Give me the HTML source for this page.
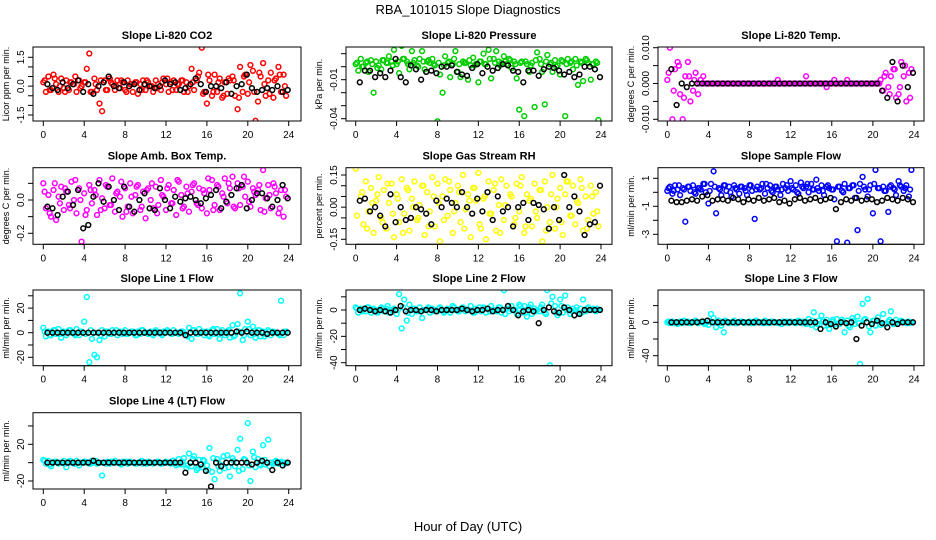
<!DOCTYPE html>
<html><head><meta charset="utf-8"><title>RBA_101015 Slope Diagnostics</title>
<style>
html,body{margin:0;padding:0;background:#fff;}
svg{display:block;font-family:"Liberation Sans",Arial,sans-serif;}
</style></head>
<body>
<svg id="chart" width="936" height="540" viewBox="0 0 936 540" xmlns="http://www.w3.org/2000/svg">
<rect x="0" y="0" width="936" height="540" fill="#fff"/>
<text x="468" y="14" text-anchor="middle" font-size="13">RBA_101015  Slope Diagnostics</text>
<text x="468" y="531" text-anchor="middle" font-size="13">Hour of Day (UTC)</text>
</svg>
<script>
const xTicks = [0,4,8,12,16,20,24];

const co2C = [0.2,-0.3,0.5,-0.2,0.6,0.1,-0.3,0.4,-0.1,0.3,-0.2,0.2,0.1,-0.3,0.3,0.0,
0.2,0.9,1.7,-0.3,0.4,-0.2,-0.9,-1.3,0.3,-0.2,0.4,0.1,-0.2,0.3,-0.1,0.2,
-0.2,0.3,0.1,-0.3,0.2,-0.4,0.1,0.3,-0.2,0.2,0.0,-0.3,0.3,0.1,-0.2,0.4,
0.1,-0.3,0.2,0.3,-0.2,0.1,0.3,-0.3,0.2,0.0,0.9,-0.2,0.3,0.7,2.0,-0.3,
-0.9,0.3,-0.5,0.6,-0.3,0.4,-0.6,0.2,-0.4,0.3,0.5,-0.5,-1.2,1.0,-0.3,0.6,
-0.4,1.1,0.8,-1.8,-0.8,0.5,1.2,-0.5,0.3,0.7,-0.6,0.4,1.0,-0.3,0.6,-0.5];
const co2B = [0.3,-0.2,0.4,0.0,-0.3,0.2,0.5,-0.1,0.2,-0.3,0.1,0.3,-0.2,0.2,0.0,0.3,
-0.3,0.1,0.2,-0.2,0.3,0.0,-0.1,0.2,0.4,-0.2,0.1,0.3,-0.3,0.2,0.5,-0.4,
0.6,-0.3,0.2,-0.5,0.4,0.3,-0.6,0.5,0.2,-0.3,0.7,0.1,-0.4,0.3,0.6,0.0];
const co2K = [0.1,-0.1,-0.2,0.2,-0.1,0.1,0.3,-0.3,0.1,-0.4,0.0,0.2,0.5,0.0,-0.1,0.2,
0.0,0.1,-0.2,0.1,0.0,-0.1,0.0,0.3,0.1,0.2,-0.2,-0.1,0.1,0.4,0.1,-0.3,
0.0,0.0,-0.1,0.2,-0.4,0.0,0.1,0.6,-0.1,-0.3,-0.2,-0.1,-0.2,0.0,-0.3,-0.2];

const presC = [0.002,-0.003,0.006,0.000,0.003,-0.004,0.005,-0.020,0.004,0.001,-0.002,0.005,0.003,0.008,0.004,0.013,
0.002,-0.005,0.016,0.006,0.004,-0.002,0.012,0.005,0.001,0.006,0.012,-0.002,0.004,0.003,0.006,0.001,
-0.042,-0.006,-0.020,0.008,0.003,-0.008,0.002,0.012,-0.004,-0.008,0.004,0.003,-0.010,0.001,0.007,0.002,
-0.012,0.004,0.010,0.002,0.013,-0.009,0.006,0.012,0.004,0.003,0.008,0.002,0.006,-0.001,0.004,-0.009,
-0.033,0.004,-0.038,0.002,-0.004,0.003,-0.031,0.011,0.006,-0.004,-0.029,0.009,0.002,-0.004,0.005,0.001,
-0.006,0.004,-0.038,0.006,0.003,-0.002,0.006,-0.014,0.004,-0.011,0.006,0.003,-0.010,0.002,0.004,-0.041];
const presB = [0.003,0.000,0.004,0.002,-0.001,0.005,0.003,0.001,0.004,0.006,0.002,0.003,0.000,0.004,0.005,0.002,
0.003,0.001,0.004,0.006,0.002,0.003,0.005,0.001,0.004,0.002,0.006,0.003,0.001,0.004,0.005,0.002,
0.003,0.004,0.001,0.005,0.002,0.004,0.003,0.000,0.005,0.002,0.004,0.001,0.003,0.005,0.002,0.003];
const presK = [-0.012,-0.003,-0.003,-0.008,-0.005,-0.008,-0.003,0.006,-0.008,-0.012,0.001,-0.002,-0.010,-0.004,-0.003,-0.005,
0.000,0.000,0.001,-0.004,-0.006,-0.007,-0.001,0.002,-0.005,0.000,-0.003,-0.001,0.002,0.001,-0.003,-0.004,
-0.012,-0.003,-0.003,-0.007,-0.002,0.000,-0.001,-0.003,-0.006,-0.004,-0.008,-0.006,0.000,0.000,-0.002,-0.008];

const tempC = [0.001,0.010,-0.010,0.004,0.006,-0.003,-0.010,0.002,0.006,-0.005,-0.002,0.003,-0.003,0.001,0.002,0.000,
0,0,0,0,0,0,0,0,0,0,0,0,0,0,0,0,
0,0,0,0,0,0,0,0,0,0,0,0.001,0,0,0,0,
0,0,0,0,0,0,0.002,0,0,0,0,0,0,0,-0.001,0,
0,0.001,0,0,0,0,0.001,0,0,0,0,0,0,0,0,0,
0,0,0,0.001,-0.002,0.003,-0.001,0.002,0.004,-0.004,-0.003,0.006,0.002,-0.005,0.003,0.004];
const tempB = [0.003,-0.002,0.005,-0.004,0.002,0.001,0,0,0,0,0,0,0,0,0,0,
0,0,0,0,0,0,0,0,0,0,0,0,0,0,0,0,
0,0,0,0,0,0,0,0,0,0,0.002,-0.003,0.004,-0.001,0.005,-0.004];
const tempK = [0.004,-0.006,0.000,-0.001,0,0,0,0,0,0,0,0,0,0,0,0,
0,0,0,0,0,0,0,0,0,0,0,0,0,0,0,0,
0,0,0,0,0,0,0,0,0,-0.002,-0.004,0.006,-0.005,0.005,-0.001,0.003];

const ambC = [0.1,-0.05,0.03,-0.1,0.06,-0.12,0.02,0.08,-0.06,0.05,-0.03,0.11,0.0,-0.08,0.07,-0.25,
0.04,-0.06,0.09,-0.02,0.06,-0.09,0.12,0.01,-0.05,0.08,-0.03,0.13,-0.07,0.05,0.02,-0.1,
0.07,-0.04,0.1,-0.08,0.03,0.09,-0.06,0.05,-0.11,0.07,0.0,-0.05,0.08,-0.03,0.12,0.02,
-0.06,0.09,-0.02,0.06,-0.09,0.11,0.03,-0.04,0.08,-0.07,0.05,0.1,-0.02,0.07,-0.05,0.04,
-0.08,0.06,0.12,-0.03,0.09,-0.06,0.04,0.13,-0.02,0.07,0.14,-0.05,0.1,-0.03,0.08,0.02,
0.11,-0.04,0.07,0.03,0.06,-0.06,0.18,0.01,0.09,-0.05,0.1,0.04,-0.08,0.06,-0.1,0.02];
const ambB = [0.05,-0.08,0.1,-0.02,0.07,-0.05,0.12,0.0,-0.09,0.06,0.03,-0.06,0.09,-0.03,0.04,0.11,
-0.07,0.02,0.08,-0.04,0.06,0.1,-0.08,0.03,0.07,-0.02,0.12,-0.05,0.04,0.09,-0.03,0.06,
0.13,-0.06,0.08,0.02,0.1,-0.04,0.07,0.14,-0.01,0.05,0.09,-0.07,0.03,0.08,-0.05,0.06];
const ambK = [-0.04,-0.05,-0.09,0.02,0.05,-0.03,0.06,-0.17,-0.15,0.02,0.1,-0.01,0.08,0.0,-0.06,0.08,
-0.04,-0.07,0.0,0.04,-0.05,-0.06,0.07,0.0,-0.05,0.02,-0.01,0.01,0.02,0.0,-0.02,0.01,
0.03,0.06,-0.05,-0.01,0.03,0.07,0.09,-0.05,0.0,0.04,0.04,0.01,-0.04,0.0,0.09,0.01];

const rhC = [0.18,-0.2,0.05,-0.08,0.12,-0.02,0.09,-0.12,0.03,0.14,-0.05,0.08,-0.1,0.02,0.11,-0.14,
0.06,-0.07,0.13,-0.03,0.09,-0.11,0.04,0.12,-0.06,0.01,0.1,-0.13,0.07,-0.02,0.14,-0.09,
0.11,-0.16,0.05,0.13,-0.04,0.08,-0.12,0.02,0.1,-0.07,0.15,-0.01,0.06,-0.14,0.09,0.03,
0.16,-0.1,0.04,-0.15,0.12,-0.03,0.08,-0.11,0.01,0.13,-0.06,0.1,-0.19,0.05,-0.08,0.11,
-0.02,0.14,-0.12,0.06,0.03,-0.09,0.11,-0.05,0.08,-0.16,0.12,0.0,-0.07,0.15,-0.1,0.04,
0.09,-0.13,0.06,0.12,-0.04,0.1,-0.08,0.02,0.13,-0.11,0.05,-0.06,0.1,-0.03,0.07,-0.09];
const rhB = [-0.04,0.07,-0.1,0.02,0.06,-0.07,0.11,-0.03,0.04,-0.12,0.08,0.0,-0.05,0.1,-0.09,0.05,
0.02,-0.06,0.12,-0.02,0.07,-0.1,0.03,0.09,-0.08,0.05,-0.03,0.11,-0.12,0.01,0.06,-0.05,
0.1,-0.09,0.04,-0.02,0.08,-0.11,0.06,0.0,-0.07,0.12,-0.04,0.03,0.09,-0.1,0.05,-0.02];
const rhK = [0.03,0.04,-0.02,0.0,-0.04,-0.09,0.06,-0.07,0.0,-0.06,-0.05,0.0,-0.01,-0.03,-0.08,0.03,
0.0,0.04,0.02,0.0,0.07,0.0,-0.03,0.04,-0.02,0.07,-0.06,0.05,-0.02,0.0,-0.09,0.0,
0.02,-0.06,0.02,0.01,-0.01,-0.1,0.0,-0.06,0.15,0.0,0.05,-0.02,-0.13,-0.08,-0.07,0.1];

const sfC = [0.1,0.4,-0.1,0.5,0.2,-0.2,0.3,-2.1,0.4,0.1,0.5,-0.1,0.3,0.2,0.6,0.0,
-0.8,0.6,1.5,-1.5,0.3,-0.2,0.5,0.1,0.4,-0.3,0.5,0.2,-0.1,0.4,0.3,-0.2,
0.5,0.1,-1.9,0.4,0.2,0.6,-0.1,0.3,0.5,0.0,0.4,0.2,-0.2,0.6,0.3,0.1,
0.8,0.2,0.5,-0.1,0.7,0.3,0.4,0.0,0.6,0.2,0.9,0.1,0.5,-0.2,0.4,0.3,
0.2,-0.5,-3.5,0.4,0.1,0.6,-3.6,0.3,0.5,-0.4,-2.7,0.6,1.1,0.2,-0.3,0.5,
-1.5,1.6,0.3,-3.5,0.4,0.1,-1.4,0.5,0.3,-0.2,0.8,0.4,0.1,0.5,-0.3,1.6];
const sfB = [0.3,0.1,0.5,0.2,0.4,0.0,0.3,0.6,0.1,0.4,0.2,0.5,0.0,0.3,0.4,0.1,
0.5,0.2,0.3,0.6,0.1,0.4,0.2,0.5,0.3,0.0,0.4,0.6,0.2,0.3,0.1,0.5,
0.2,0.4,0.0,0.3,0.5,0.1,0.4,0.2,0.6,0.3,0.1,0.4,0.2,0.5,0.3,0.2];
const sfK = [-0.6,-0.7,-0.7,-0.6,-0.5,-0.6,-0.3,-0.2,-0.6,-0.5,-0.5,-0.6,-0.4,-0.5,-0.7,-0.5,
-0.6,-0.4,-0.6,-0.5,-0.4,-0.7,-0.6,-0.8,-0.5,-0.4,-0.6,-0.5,-0.4,-0.6,-0.5,-0.4,
-1.2,-0.7,-0.5,-0.6,-0.4,-0.6,-0.5,-0.5,-0.7,-0.6,-0.4,-0.5,-0.6,-0.4,-0.5,-0.7];

const l1C = [4,-3,1,-2,2,-1,3,-4,1,-2,2,0,-1,3,-2,1,
9,29,-24,-5,-18,-20,-6,2,-3,1,-1,2,0,-2,1,-1,
2,-1,0,1,-2,1,-1,2,0,-1,1,-2,2,0,-1,1,
0,1,-1,2,0,-1,1,0,-2,4,-5,2,-1,3,0,-2,
1,-3,2,-1,3,-5,2,-2,1,-4,6,-2,7,32,-6,3,
9,-2,5,-4,2,-3,1,-1,2,-2,1,0,-1,26,-2,1];
const l1B = [1,-2,2,-1,0,2,-2,1,-1,2,0,-2,1,-1,2,0,
-1,1,-2,2,0,-1,1,-2,2,-1,0,1,-3,2,-1,1,
-2,3,-1,0,2,-3,1,-2,3,-1,2,-3,1,0,-2,1];
const l1K = [0,0,0,0,0,0,0,0,0,0,0,0,0,0,0,0,
0,0,0,0,0,0,0,0,0,0,0,-2,0,0,0,0,
0,0,0,0,0,1,0,1,0,0,0,-1,0,0,0,0];

const l2C = [2,-2,1,0,-1,2,-2,1,0,-1,2,-1,1,-2,0,1,
-3,12,-14,8,-8,4,-3,1,-1,2,-6,0,1,-2,1,0,
-1,2,0,-1,1,-2,3,0,-1,1,2,-1,0,3,-2,1,
0,-1,2,-2,1,3,0,-1,2,-2,15,1,-1,3,0,-3,
4,-2,3,-5,2,-3,1,0,-1,4,-2,15,-42,10,3,-4,
8,-2,11,2,-3,1,0,-2,1,8,-1,2,0,1,-1,0];
const l2B = [1,-1,2,0,-2,1,3,-1,0,2,-2,1,-1,0,2,-1,
1,-2,0,2,-1,1,0,-2,2,1,-1,0,2,-3,1,0,
3,-2,4,-1,2,-3,5,-2,3,0,-1,2,-2,1,0,1];
const l2K = [0,1,0,-1,0,-1,-2,0,3,-1,0,0,-1,0,0,-1,
0,0,0,0,1,0,-1,0,0,1,-1,0,0,3,0,-4,
-1,0,-1,-10,0,2,-1,-2,2,0,-4,-3,0,0,0,0];

const l3C = [0,-1,1,0,-2,1,-1,0,1,-1,0,2,-1,0,1,-1,
-3,10,5,-6,2,-4,-12,1,-1,0,2,-1,0,1,-1,0,
1,0,-1,1,0,-1,2,0,-1,1,0,-1,0,1,0,-1,
1,0,-1,2,0,1,-2,4,-3,12,-6,2,8,-4,3,-8,
1,-3,4,-2,3,-12,2,-6,5,-2,7,-50,22,4,28,-12,
2,-4,6,-3,10,-2,1,13,-2,3,-1,2,0,-1,1,0];
const l3B = [1,-1,0,2,-1,1,0,-2,1,0,-1,2,0,-1,1,0,
-1,2,0,-1,1,0,-2,1,0,1,-1,0,2,-2,1,-3,
3,-2,1,-4,2,-1,3,-5,2,0,-2,3,-1,1,0,-1];
const l3K = [0,0,0,0,0,0,1,2,0,0,0,0,0,0,0,0,
0,0,0,0,0,0,0,0,0,0,0,0,0,-8,0,-2,
-5,0,-1,0,-20,-4,0,-2,2,-1,-6,0,-2,0,0,0];

const l4C = [3,-1,2,-4,0,1,-1,0,2,-5,1,0,-1,2,-3,0,
1,0,-1,2,0,-1,0,-14,0,1,-1,0,2,0,-1,1,
0,-1,1,0,-1,0,1,-1,0,1,0,-1,0,1,-1,0,
1,0,-1,2,-3,4,-2,5,-6,10,-4,7,-8,3,-5,2,
-3,16,-10,-18,4,-9,2,-6,8,-15,5,-4,14,26,-7,3,
43,-20,12,-5,4,-3,19,-2,25,0,-1,2,-1,1,0,0];
const l4B = [2,-2,1,0,-1,2,-1,0,1,-1,2,0,-1,1,0,-2,
1,0,-1,2,-1,0,1,-1,0,2,-1,1,-3,4,-6,3,
-8,5,-4,7,-5,2,-9,4,-3,6,-2,3,-4,1,0,-1];
const l4K = [0,0,0,0,0,0,0,0,0,2,0,0,0,0,0,0,
0,0,0,0,0,0,0,0,0,0,0,-11,0,0,-2,-9,
-26,0,-4,0,0,0,0,0,-2,0,2,0,-8,0,-3,0];

const panelTitles = ["Slope Li-820 CO2","Slope Li-820 Pressure","Slope Li-820 Temp.","Slope Amb. Box Temp.","Slope Gas Stream RH","Slope Sample Flow","Slope Line 1 Flow","Slope Line 2 Flow","Slope Line 3 Flow","Slope Line 4 (LT) Flow"];
const yTitles = ["Licor ppm per min.","kPa per min.","degrees C per min.","degrees C per min.","percent per min.","ml/min per min.","ml/min per min.","ml/min per min.","ml/min per min.","ml/min per min."];
const colSeries = [co2C,presC,tempC,ambC,rhC,sfC,l1C,l2C,l3C,l4C];
const colSeriesB = [co2B,presB,tempB,ambB,rhB,sfB,l1B,l2B,l3B,l4B];
const blkSeries = [co2K,presK,tempK,ambK,rhK,sfK,l1K,l2K,l3K,l4K];
const yTickVals = [[-1.5,-1,-0.5,0,0.5,1,1.5],[0.01,0,-0.01,-0.02,-0.03,-0.04],[-0.01,-0.005,0,0.005,0.01],[-0.2,-0.1,0,0.1],[-0.15,-0.1,-0.05,0,0.05,0.1,0.15],[-3,-2,-1,0,1],[-20,-10,0,10,20,30],[-40,-30,-20,-10,0,10],[-40,-20,0,20],[-20,0,20,40]];
const yTickLabels = [{"1.5":"1.5","0":"0.0","-1.5":"-1.5"},{"-0.01":"-0.01","-0.04":"-0.04"},{"0.01":"0.010","0":"0.000","-0.01":"-0.010"},{"0":"0.0","-0.2":"-0.2"},{"0.15":"0.15","0":"0.00","-0.15":"-0.15"},{"1":"1","-1":"-1","-3":"-3"},{"20":"20","0":"0","-20":"-20"},{"0":"0","-20":"-20","-40":"-40"},{"0":"0","-40":"-40"},{"20":"20","-20":"-20"}];

// layout (pixel geometry, not data)
const colBox = [[33,301,43.3,288.7],[346,612,355.7,601],[658,924,667.3,914]];
const rowBox = [[47,121],[167.7,244.3],[290,365.7],[412.7,489]];
const yRef = [[1.5,57.3,-1.5,115],[0,66.7,-0.04,118.7],[0.01,47.7,-0.01,119.3],[0,200,-0.2,233.3],[0.15,175,-0.15,239.3],[1,178.3,-3,234.3],[20,308.1,-20,357.3],[0,310,-40,362.7],[0,322.3,-40,355.7],[20,444.3,-20,481]];
const colors = ["#ff0000","#00cd00","#ff00ff","#ff00ff","#ffff00","#0000ff","#00ffff","#00ffff","#00ffff","#00ffff"];

const NS = "http://www.w3.org/2000/svg";
const svg = document.getElementById('chart');
function mk(tag, attrs, parent){
  const e = document.createElementNS(NS, tag);
  for (const k in attrs) e.setAttribute(k, attrs[k]);
  (parent||svg).appendChild(e); return e;
}
const defs = mk('defs',{});

for (let p = 0; p < 10; p++) {
  const cb = colBox[p % 3], rb = rowBox[Math.floor(p / 3)];
  const [bx0, bx1, hx0, hx24] = cb, [by0, by1] = rb;
  const [va, ya, vb, yb] = yRef[p];
  const xS = h => hx0 + (hx24 - hx0) * h / 24;
  const yS = v => ya + (yb - ya) * (v - va) / (vb - va);

  const g = mk('g', {});
  
  

  const cp = mk('clipPath', {id: 'clip' + p}, defs);
  mk('rect', {x: bx0, y: by0, width: bx1 - bx0, height: by1 - by0}, cp);

  const t = mk('text', {x: (bx0 + bx1) / 2, y: by0 - 8, 'text-anchor': 'middle', 'font-size': 11, 'font-weight': 'bold'}, g);
  
  
  t.textContent = panelTitles[p];

  const yt = mk('text', {transform: 'translate(' + (bx0 - 24) + ',' + ((by0 + by1) / 2) + ') rotate(-90)', 'text-anchor': 'middle', 'font-size': 9}, g);
  
  
  yt.textContent = yTitles[p];

  // points
  const pg = mk('g', {'clip-path': 'url(#clip' + p + ')', fill: 'none', 'stroke-width': 1.5}, g);
  const cs = colSeries[p];
  for (let i = 0; i < cs.length; i++) {
    const c = mk('circle', {cx: xS(i * 0.25).toFixed(1), cy: yS(cs[i]).toFixed(1), r: 2.4, stroke: colors[p]}, pg);
    
    
  }
  const cs2 = colSeriesB[p];
  for (let i = 0; i < cs2.length; i++) {
    const c = mk('circle', {cx: xS(i * 0.5 + 0.125).toFixed(1), cy: yS(cs2[i]).toFixed(1), r: 2.4, stroke: colors[p]}, pg);
    
    
  }
  const ks = blkSeries[p];
  for (let i = 0; i < ks.length; i++) {
    const c = mk('circle', {cx: xS((i + 1) * 0.5 - 0.1).toFixed(1), cy: yS(ks[i]).toFixed(1), r: 2.4, stroke: '#000'}, pg);
    
    
  }

  const box = mk('rect', {x: bx0, y: by0, width: bx1 - bx0, height: by1 - by0, fill: 'none', stroke: '#000', 'stroke-width': 1}, g);
  
  

  // x axis
  const xa = mk('g', {}, g);
  
  
  mk('line', {x1: xS(0), x2: xS(24), y1: by1, y2: by1, stroke: '#000'}, xa);
  xTicks.forEach(h => {
    mk('line', {x1: xS(h), x2: xS(h), y1: by1, y2: by1 + 5, stroke: '#000'}, xa);
    const tl = mk('text', {x: xS(h), y: by1 + 17, 'text-anchor': 'middle', 'font-size': 10}, xa);
    
    
    tl.textContent = h;
  });

  // y axis
  const ya2 = mk('g', {}, g);
  
  
  const tv = yTickVals[p];
  mk('line', {x1: bx0, x2: bx0, y1: yS(Math.max(...tv)), y2: yS(Math.min(...tv)), stroke: '#000'}, ya2);
  tv.forEach(v => {
    const yy = yS(v);
    mk('line', {x1: bx0 - 5, x2: bx0, y1: yy, y2: yy, stroke: '#000'}, ya2);
    const lab = yTickLabels[p][String(v)];
    if (lab !== undefined) {
      const tl = mk('text', {transform: 'translate(' + (bx0 - 9) + ',' + yy + ') rotate(-90)', 'text-anchor': 'middle', 'font-size': 10}, ya2);
      
      
      tl.textContent = lab;
    }
  });
}
</script>
</body></html>
